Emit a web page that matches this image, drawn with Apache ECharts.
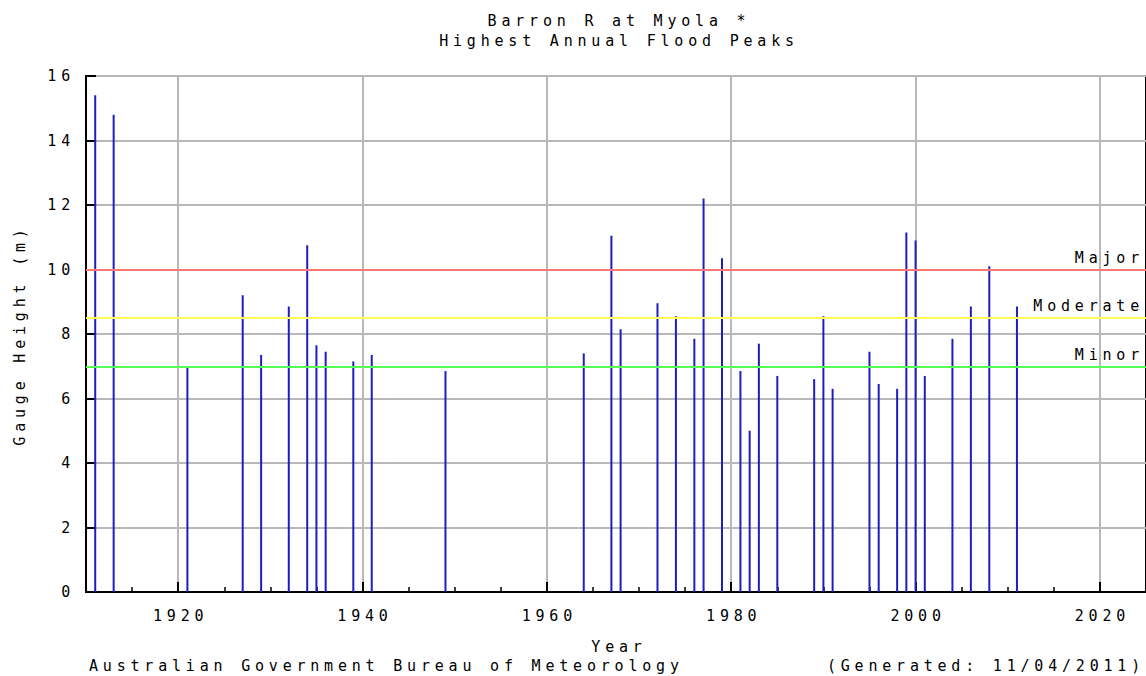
<!DOCTYPE html>
<html>
<head>
<meta charset="utf-8">
<script src="https://cdn.jsdelivr.net/npm/echarts@6/dist/echarts.min.js"></script>
<style>
html, body { margin: 0; padding: 0; background: #fff; }
#chart { width: 1146px; height: 676px; }
#chart svg text { letter-spacing: 4.8px; }
</style>
</head>
<body>
<div id="chart"></div>
<script>
// ---- data ----
const titleLines = ['Barron R at Myola *', 'Highest Annual Flood Peaks'];
const years = [1911, 1913, 1921, 1927, 1929, 1932, 1934, 1935, 1936, 1939, 1941, 1949, 1964, 1967, 1968, 1972, 1974, 1976, 1977, 1979, 1981, 1982, 1983, 1985, 1989, 1990, 1991, 1995, 1996, 1998, 1999, 2000, 2001, 2004, 2006, 2008, 2011];
const peaks = [15.4, 14.8, 7.0, 9.2, 7.35, 8.85, 10.75, 7.65, 7.45, 7.15, 7.35, 6.85, 7.4, 11.05, 8.15, 8.95, 8.55, 7.85, 12.2, 10.35, 6.85, 5.0, 7.7, 6.7, 6.6, 8.55, 6.3, 7.45, 6.45, 6.3, 11.15, 10.9, 6.7, 7.85, 8.85, 10.1, 8.85];
const floodNames = ['Major', 'Moderate', 'Minor'];
const floodLevels = [10, 8.5, 7];
const floodColors = ['#ff7878', '#ffff55', '#55ff55'];
const xTickYears = [1920, 1940, 1960, 1980, 2000, 2020];
const xMin = 1910, xMax = 2025;
const yTicks = [0, 2, 4, 6, 8, 10, 12, 14, 16];

const FONT = '"DejaVu Sans Mono", "Liberation Mono", monospace';
const FS = 15;
const chart = echarts.init(document.getElementById('chart'), null, { renderer: 'svg' });

const barData = years.map((y, i) => [y, peaks[i]]);
const markData = floodLevels.map((v, i) => ({
  yAxis: v,
  name: floodNames[i],
  lineStyle: { color: floodColors[i], width: 2, type: 'solid' },
  label: { formatter: floodNames[i] }
}));

const txt = (text, x, y, align, extra) => Object.assign({
  type: 'text', x: x, y: y,
  style: { text: text, font: FS + 'px ' + FONT, fill: '#000', textAlign: align, textVerticalAlign: 'middle' }
}, extra || {});

const option = {
  animation: false,
  backgroundColor: '#fff',
  grid: {
    left: 86, top: 76, right: 0, bottom: 84,
    show: true, borderColor: '#000', borderWidth: 2, backgroundColor: '#fff'
  },
  xAxis: [{
    type: 'value', min: xMin, max: xMax,
    axisLine: { show: true, onZero: false, lineStyle: { color: '#000', width: 2 } },
    axisTick: { show: true, inside: true, length: 10, customValues: xTickYears, lineStyle: { color: '#000', width: 2 } },
    axisLabel: { customValues: xTickYears, margin: 16, color: '#000', fontFamily: FONT, fontSize: FS, padding: [0, 0, 0, 5], formatter: v => String(v) },
    splitLine: { show: true, lineStyle: { color: '#b8b8b8', width: 2 } }
  }, {
    type: 'value', min: xMin, max: xMax, interval: 5, position: 'bottom',
    axisLine: { show: false, onZero: false },
    axisTick: { show: true, inside: true, length: 5, lineStyle: { color: '#000', width: 1.5 } },
    axisLabel: { show: false },
    splitLine: { show: false }
  }],
  yAxis: {
    type: 'value', min: yTicks[0], max: yTicks[yTicks.length - 1], interval: 2,
    axisLine: { show: true, lineStyle: { color: '#000', width: 2 } },
    axisTick: { show: true, inside: true, length: 10, lineStyle: { color: '#000', width: 2 } },
    axisLabel: { margin: 11, color: '#000', fontFamily: FONT, fontSize: FS },
    splitLine: { show: true, lineStyle: { color: '#b8b8b8', width: 2 } }
  },
  series: [{
    type: 'line', data: [], z: 1, silent: true,
    markLine: {
      silent: true, symbol: 'none',
      label: { show: true, position: 'insideEndTop', color: '#000', fontFamily: FONT, fontSize: FS, distance: [2, 4] },
      data: markData
    }
  }, {
    type: 'bar', data: barData, barWidth: 2, z: 3,
    itemStyle: { color: '#1e1ec0' }
  }],
  graphic: [
    txt(titleLines[0], 619, 21, 'center'),
    txt(titleLines[1], 619, 41, 'center'),
    txt('Gauge Height (m)', 20, 335, 'center', { rotation: Math.PI / 2 }),
    txt('Year', 619, 647, 'center'),
    txt('Australian Government Bureau of Meteorology', 89, 666, 'left'),
    txt('(Generated: 11/04/2011)', 1145, 666, 'right')
  ]
};
chart.setOption(option);
</script>
</body>
</html>
